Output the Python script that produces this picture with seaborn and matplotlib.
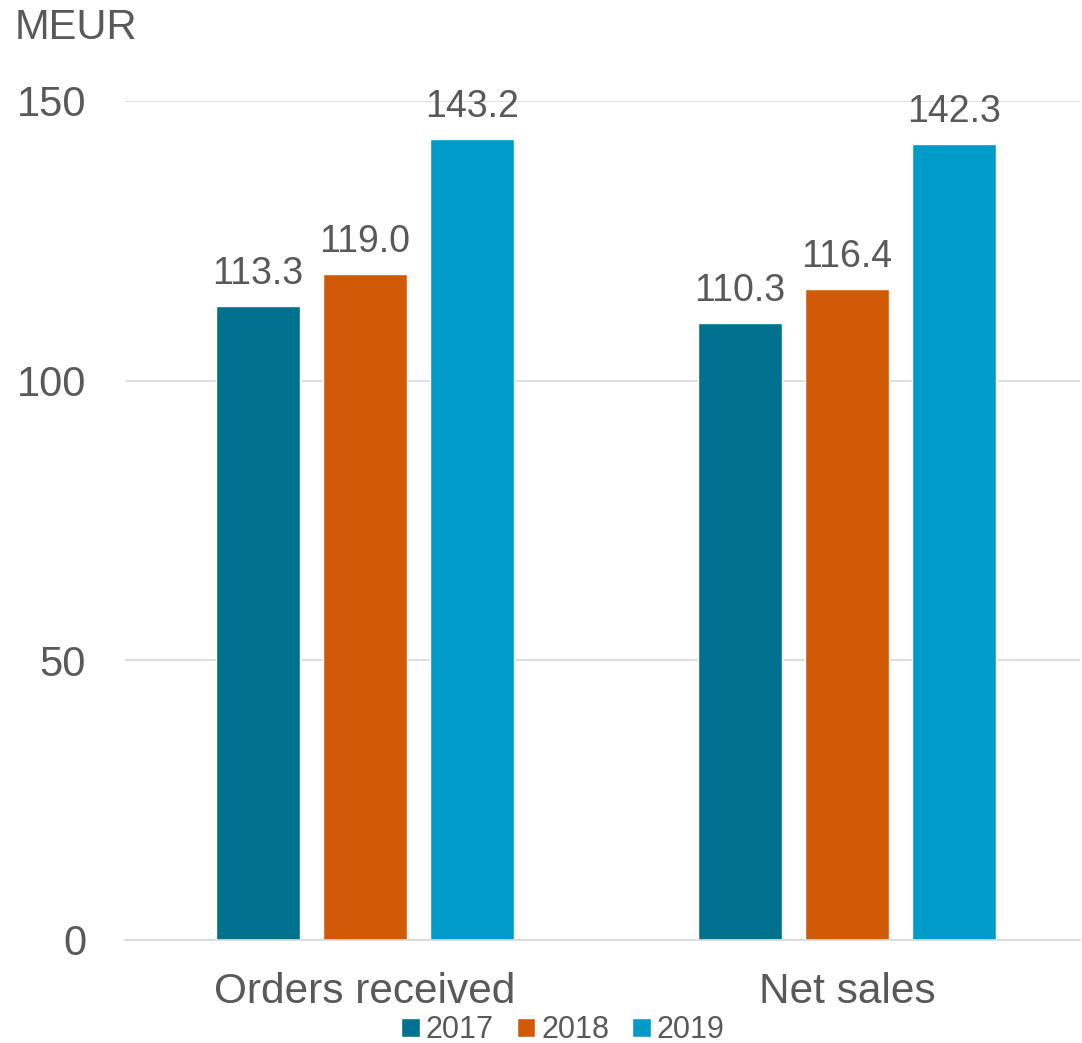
import pandas as pd
import matplotlib.pyplot as plt
import seaborn as sns

# Données
categories = ['Orders received', 'Net sales']
years = ['2017', '2018', '2019']
values_2017 = [113.3, 110.3]
values_2018 = [119.0, 116.4]
values_2019 = [143.2, 142.3]
colors = ['#00718F', '#D05A05', '#009BC8']

df = pd.DataFrame({
    'Category': categories * 3,
    'Year': [y for y in years for _ in categories],
    'Value': values_2017 + values_2018 + values_2019,
})

sns.set_style('white')
plt.rcParams['font.family'] = ['Liberation Sans', 'DejaVu Sans']
text_color = '#595959'

fig = plt.figure(figsize=(10.82, 10.43), dpi=100)
ax = fig.add_axes([0.1155, 0.0988, 0.8825, 0.8044])

sns.barplot(data=df, x='Category', y='Value', hue='Year', palette=colors,
            width=0.666, gap=0.216, ax=ax, saturation=1, legend=True)

for cont in ax.containers:
    ax.bar_label(cont, fmt='%.1f', padding=10, fontsize=27, color=text_color)

ax.set_ylim(0, 150)
ax.set_xlim(-0.498, 1.483)
ax.set_yticks([0, 50, 100, 150])
ax.yaxis.grid(True, color='#D9D9D9', linewidth=1.2)
ax.set_axisbelow(True)
for s in ['top', 'right', 'left']:
    ax.spines[s].set_visible(False)
ax.spines['bottom'].set_color('#D9D9D9')
ax.spines['bottom'].set_linewidth(1.2)
ax.tick_params(axis='y', length=0, labelsize=30, labelcolor=text_color, pad=28)
ax.tick_params(axis='x', length=0, labelsize=30.5, labelcolor=text_color, pad=23)
ax.set_xlabel('')
ax.set_ylabel('')

fig.text(15 / 1082, 1 - 28 / 1043, 'MEUR', fontsize=30, color=text_color,
         ha='left', va='center')

handles, labels = ax.get_legend_handles_labels()
ax.legend_.remove()
fig.legend(handles, labels, loc='center', bbox_to_anchor=(563 / 1082, 1 - 1030 / 1043),
           ncol=3, frameon=False, fontsize=22, labelcolor=text_color,
           handlelength=0.6, handleheight=0.6, handletextpad=0.2, columnspacing=0.75,
           borderpad=0)

fig.savefig('out.png', dpi=100)
